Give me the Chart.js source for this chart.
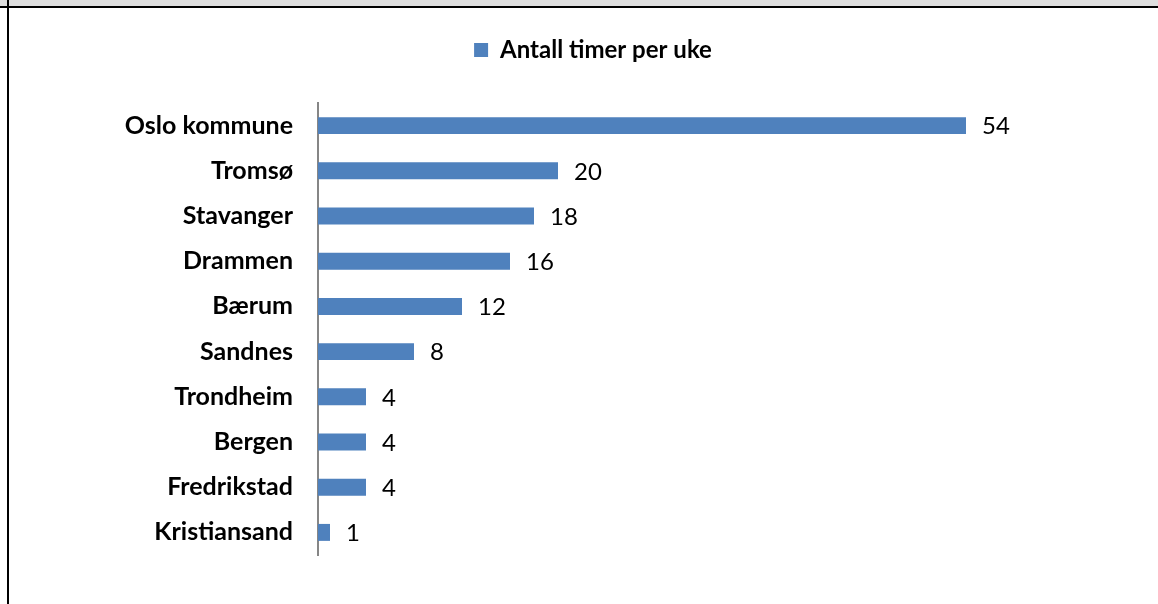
<!DOCTYPE html>
<html>
<head>
<meta charset="utf-8">
<script src="https://cdn.jsdelivr.net/npm/chart.js@4.4.0/dist/chart.umd.min.js"></script>
<style>
  html, body { margin: 0; padding: 0; background: #fff; }
  body { width: 1158px; height: 604px; position: relative; overflow: hidden; }
  .band { position: absolute; left: 0; top: 0; width: 1158px; height: 6px; background: #dedede; }
  .linje-topp { position: absolute; left: 0; top: 6px; width: 1158px; height: 2px; background: #000; }
  .linje-venstre { position: absolute; left: 7px; top: 0; width: 2px; height: 604px; background: #000; }
  #ramme { position: absolute; left: 10px; top: 9px; width: 1148px; height: 595px; }
</style>
</head>
<body>
<div class="band"></div>
<div class="linje-topp"></div>
<div class="linje-venstre"></div>
<div id="ramme"><canvas id="graf"></canvas></div>

<script>
// Data
const kommuner = ['Oslo kommune', 'Tromsø', 'Stavanger', 'Drammen', 'Bærum', 'Sandnes', 'Trondheim', 'Bergen', 'Fredrikstad', 'Kristiansand'];
const timer = [54, 20, 18, 16, 12, 8, 4, 4, 4, 1];
const serieNavn = 'Antall timer per uke';

const skrift = 'Lato, "Open Sans", sans-serif';

// Tall ved enden av hver stolpe
const verdiEtiketter = {
  id: 'verdiEtiketter',
  afterDatasetsDraw(chart) {
    const ctx = chart.ctx;
    const meta = chart.getDatasetMeta(0);
    ctx.save();
    ctx.font = '24px ' + skrift;
    ctx.fillStyle = '#000';
    ctx.textAlign = 'left';
    ctx.textBaseline = 'middle';
    meta.data.forEach((bar, i) => {
      ctx.fillText(String(timer[i]), bar.x + 16, bar.y + 1);
    });
    ctx.restore();
  }
};

const ctx = document.getElementById('graf').getContext('2d');
new Chart(ctx, {
  type: 'bar',
  data: {
    labels: kommuner,
    datasets: [{
      label: serieNavn,
      data: timer,
      backgroundColor: '#4f81bd',
      borderWidth: 0,
      barPercentage: 0.375,
      categoryPercentage: 1
    }]
  },
  options: {
    indexAxis: 'y',
    responsive: true,
    maintainAspectRatio: false,
    animation: false,
    layout: {
      padding: { left: 18, right: 0, top: 19, bottom: 49 }
    },
    plugins: {
      tooltip: { enabled: false },
      legend: {
        position: 'top',
        labels: {
          color: '#000',
          boxWidth: 14,
          boxHeight: 14,
          padding: 10,
          font: { family: skrift, size: 24, weight: 'bold' }
        }
      }
    },
    scales: {
      x: {
        position: 'top',
        min: 0,
        max: 70,
        ticks: { display: false },
        grid: { display: false },
        border: { display: false },
        afterFit(scale) { scale.height = 31; }
      },
      y: {
        ticks: {
          color: '#000',
          padding: 17,
          font: { family: skrift, size: 25, weight: 'bold' }
        },
        grid: { display: false },
        border: { display: true, color: '#868686', width: 2 },
        afterFit(scale) { scale.width = 290; }
      }
    }
  },
  plugins: [verdiEtiketter]
});
</script>
</body>
</html>
